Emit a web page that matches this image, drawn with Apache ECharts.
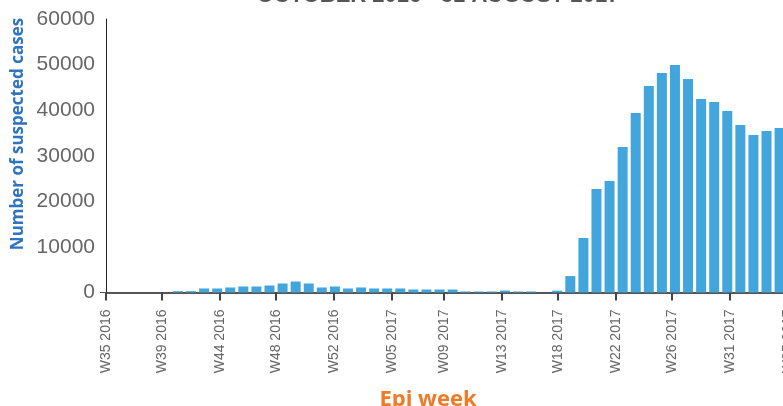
<!DOCTYPE html>
<html><head><meta charset="utf-8">
<script src="https://cdn.jsdelivr.net/npm/echarts@6/dist/echarts.min.js"></script>
<style>html,body{margin:0;padding:0;background:#fff}#c{width:783px;height:406px}</style>
</head><body><div id="c"></div>
<script>
// Epi weeks (ISO) and weekly suspected cases
const weeks = [
  'W40 2016','W41 2016','W42 2016','W43 2016','W44 2016','W45 2016','W46 2016','W47 2016',
  'W48 2016','W49 2016','W50 2016','W51 2016','W52 2016',
  'W01 2017','W02 2017','W03 2017','W04 2017','W05 2017','W06 2017','W07 2017','W08 2017',
  'W09 2017','W10 2017','W11 2017','W12 2017','W13 2017','W14 2017','W15 2017','W16 2017',
  'W17 2017','W18 2017','W19 2017','W20 2017','W21 2017','W22 2017','W23 2017','W24 2017',
  'W25 2017','W26 2017','W27 2017','W28 2017','W29 2017','W30 2017','W31 2017','W32 2017',
  'W33 2017','W34 2017'
];
const cases = [
  300, 300, 880, 880, 1100, 1320, 1320, 1540,
  1970, 2410, 1970, 1100, 1320,
  880, 1100, 880, 880, 880, 660, 660, 660,
  660, 220, 220, 220, 440, 220, 220, 0,
  400, 3600, 11950, 22700, 24450, 31900, 39360, 45280,
  48140, 49890, 46820, 42430, 41780, 39800, 36730, 34540,
  35420, 36070
];
// Axis ticks: first day of each month, labelled with its epi week
const tickDates = ['2016-09-01','2016-10-01','2016-11-01','2016-12-01','2017-01-01','2017-02-01',
  '2017-03-01','2017-04-01','2017-05-01','2017-06-01','2017-07-01','2017-08-01','2017-09-01'];
const tickLabels = ['W35 2016','W39 2016','W44 2016','W48 2016','W52 2016','W05 2017',
  'W09 2017','W13 2017','W18 2017','W22 2017','W26 2017','W31 2017','W35 2017'];
const yTicks = [0, 10000, 20000, 30000, 40000, 50000, 60000];

const DAY = 86400000;
function dayNum(y, m, d){ return Date.UTC(y, m, d) / DAY; }
function parseDay(s){ const p = s.split('-').map(Number); return dayNum(p[0], p[1]-1, p[2]); }
// Sunday (end) of an ISO week, at noon, in day units
function isoWeekEnd(label){
  const w = parseInt(label.slice(1,3),10), y = parseInt(label.slice(4),10);
  const jan4 = new Date(Date.UTC(y, 0, 4));
  const dow = (jan4.getUTCDay() + 6) % 7; // Monday=0
  return dayNum(y, 0, 4 - dow + 7*(w-1) + 6) + 0.5;
}
const tickDays = tickDates.map(parseDay);
const barData = weeks.map((w,i) => [isoWeekEnd(w), cases[i]]);

const chart = echarts.init(document.getElementById('c'), null, {renderer:'canvas'});
chart.setOption({
  animation:false,
  grid:{left:106, right:-5, top:19, bottom:113.5, containLabel:false, outerBoundsMode:'none'},
  xAxis:{
    type:'value', min:tickDays[0], max:tickDays[tickDays.length-1], scale:true,
    axisLine:{show:true, lineStyle:{color:'#555', width:2}},
    axisTick:{show:true, customValues:tickDays, length:8, lineStyle:{color:'#444', width:2}},
    axisLabel:{customValues:tickDays, rotate:90, color:'#666', fontSize:14, margin:17,
      fontFamily:'Liberation Sans', hideOverlap:false, showMinLabel:true, showMaxLabel:true,
      formatter:function(v){ const i = tickDays.indexOf(v); return i>=0 ? tickLabels[i] : ''; }},
    splitLine:{show:false}, minorTick:{show:false}
  },
  yAxis:{
    type:'value', min:yTicks[0], max:yTicks[yTicks.length-1], interval:10000,
    axisLine:{show:true, lineStyle:{color:'#222', width:1}},
    axisTick:{show:true, customValues:[0], length:6, lineStyle:{color:'#555', width:1}},
    axisLabel:{color:'#666', fontSize:21, margin:11, fontFamily:'Liberation Sans',
      formatter:function(v){ return String(v); }},
    splitLine:{show:false}
  },
  series:[{
    type:'bar', data:barData, barWidth:10,
    itemStyle:{color:'#42A6DD'}
  }],
  graphic:[
    {type:'text', x:438, y:-4, silent:true,
     style:{text:'OCTOBER 2016 - 31 AUGUST 2017', fill:'#555', font:'bold 22px "Liberation Sans"',
            textAlign:'center', textVerticalAlign:'middle'}},
    {type:'text', x:18, y:134, rotation:Math.PI/2, silent:true,
     style:{text:'Number of suspected cases', fill:'#2F74C0', font:'bold 17px "Open Sans"',
            textAlign:'center', textVerticalAlign:'middle'}},
    {type:'text', x:428, y:400, silent:true,
     style:{text:'Epi week', fill:'#F07A26', font:'bold 22px "Open Sans"',
            textAlign:'center', textVerticalAlign:'middle'}}
  ]
});
</script></body></html>
